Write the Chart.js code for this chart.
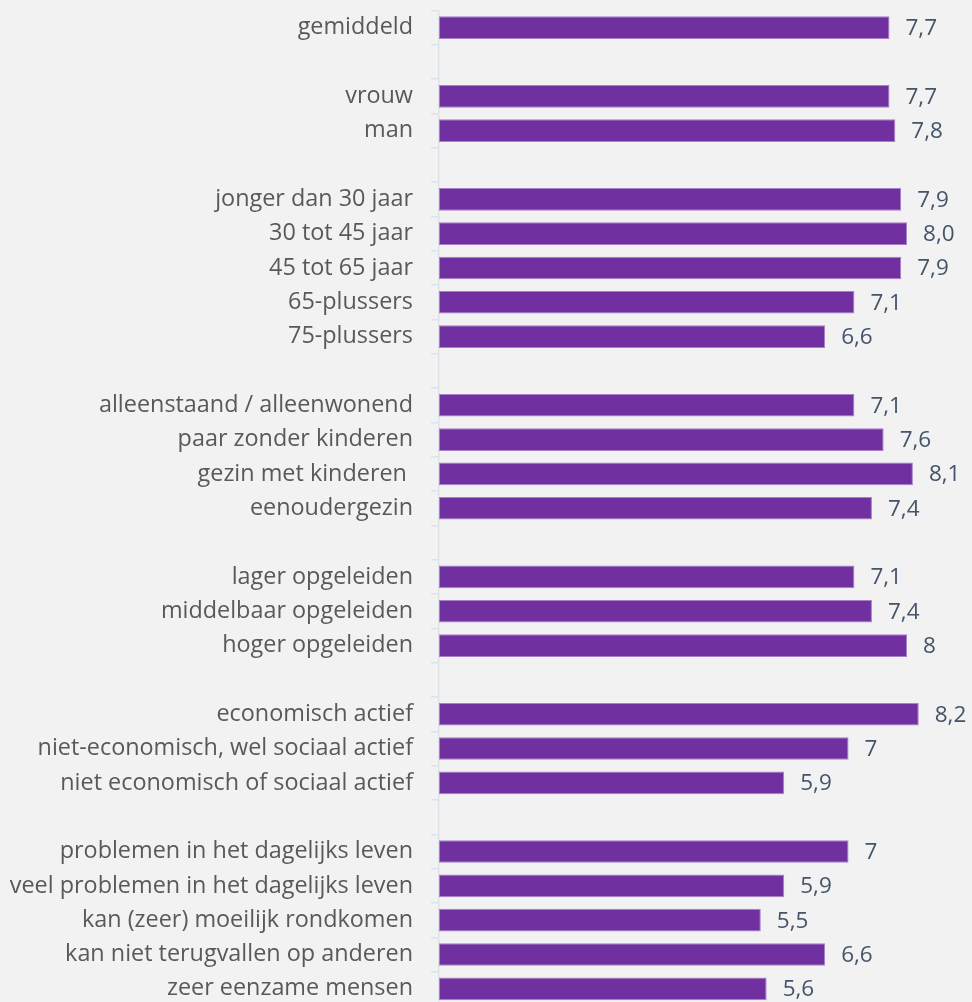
<!DOCTYPE html>
<html>
<head>
<meta charset="utf-8">
<script src="https://cdn.jsdelivr.net/npm/chart.js@4/dist/chart.umd.min.js"></script>
<style>
  html, body { margin: 0; padding: 0; background: #f2f2f2; overflow: hidden; }
  #wrap { position: relative; width: 972px; height: 1010px; }
</style>
</head>
<body>
<div id="wrap"><canvas id="c"></canvas></div>
<script>
const categories = [
  "gemiddeld", "",
  "vrouw", "man", "",
  "jonger dan 30 jaar", "30 tot 45 jaar", "45 tot 65 jaar", "65-plussers", "75-plussers", "",
  "alleenstaand / alleenwonend", "paar zonder kinderen", "gezin met kinderen ", "eenoudergezin", "",
  "lager opgeleiden", "middelbaar opgeleiden", "hoger opgeleiden", "",
  "economisch actief", "niet-economisch, wel sociaal actief", "niet economisch of sociaal actief", "",
  "problemen in het dagelijks leven", "veel problemen in het dagelijks leven", "kan (zeer) moeilijk rondkomen", "kan niet terugvallen op anderen", "zeer eenzame mensen"
];
const values = [
  7.7, null,
  7.7, 7.8, null,
  7.9, 8.0, 7.9, 7.1, 6.6, null,
  7.1, 7.6, 8.1, 7.4, null,
  7.1, 7.4, 8.0, null,
  8.2, 7.0, 5.9, null,
  7.0, 5.9, 5.5, 6.6, 5.6
];
const valueLabels = [
  "7,7", "",
  "7,7", "7,8", "",
  "7,9", "8,0", "7,9", "7,1", "6,6", "",
  "7,1", "7,6", "8,1", "7,4", "",
  "7,1", "7,4", "8", "",
  "8,2", "7", "5,9", "",
  "7", "5,9", "5,5", "6,6", "5,6"
];

const FONT = '"Open Sans", sans-serif';

const valueLabelPlugin = {
  id: 'valueLabels',
  afterDatasetsDraw(chart) {
    const ctx = chart.ctx;
    const meta = chart.getDatasetMeta(0);
    ctx.save();
    ctx.font = '22.5px ' + FONT;
    ctx.fillStyle = '#44546a';
    ctx.textAlign = 'left';
    ctx.textBaseline = 'middle';
    meta.data.forEach((bar, i) => {
      if (values[i] == null) return;
      ctx.fillText(valueLabels[i], bar.x + 16, bar.y + 1);
    });
    ctx.restore();
  }
};

new Chart(document.getElementById('c'), {
  type: 'bar',
  data: {
    labels: categories,
    datasets: [{
      data: values,
      backgroundColor: '#7030a0',
      borderColor: '#a97fcb',
      borderWidth: 1,
      borderSkipped: false,
      barPercentage: 0.66,
      categoryPercentage: 1.0
    }]
  },
  options: {
    indexAxis: 'y',
    responsive: true,
    maintainAspectRatio: false,
    animation: false,
    layout: { padding: { top: 10.5, bottom: 4, left: 0, right: 0 } },
    plugins: { legend: { display: false }, tooltip: { enabled: false } },
    scales: {
      x: {
        display: false,
        min: 0,
        max: 9.11
      },
      y: {
        afterFit(scale) {
          scale.width = 439;
          scale.paddingTop = 0;
          scale.paddingBottom = 0;
        },
        border: { display: true, color: '#dce3ea', width: 1.5 },
        grid: {
          offset: true,
          drawOnChartArea: false,
          drawTicks: true,
          tickLength: 8,
          color: '#dce3ea',
          lineWidth: 1.5
        },
        ticks: {
          padding: 18,
          autoSkip: false,
          color: '#595959',
          font: { family: FONT, size: 23.4 }
        }
      }
    }
  },
  plugins: [valueLabelPlugin]
});
</script>
</body>
</html>
